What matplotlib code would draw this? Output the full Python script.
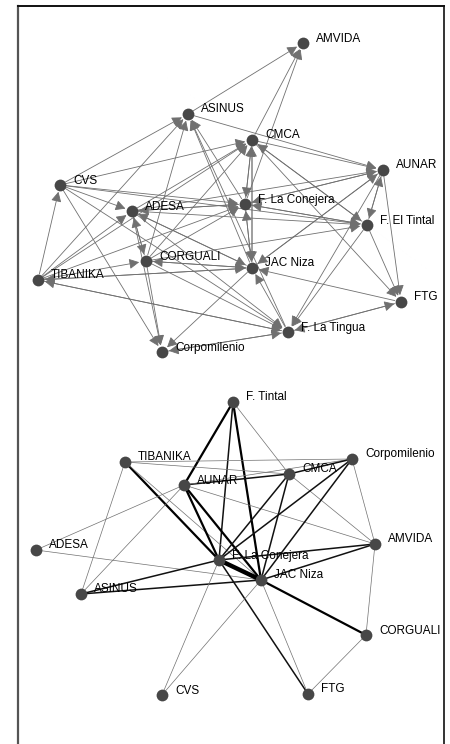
import matplotlib.pyplot as plt
from matplotlib.patches import FancyArrowPatch

plt.rcParams['font.family'] = ['Liberation Sans', 'DejaVu Sans']

# red dirigida (arriba): nombres y posiciones de los nodos
nodos_a = ['AMVIDA', 'ASINUS', 'CMCA', 'AUNAR', 'CVS', 'ADESA', 'F. La Conejera',
           'F. El Tintal', 'CORGUALI', 'JAC Niza', 'TIBANIKA', 'FTG', 'F. La Tingua',
           'Corpomilenio']
xa = [303, 188, 252, 383, 60, 132, 245, 367, 146, 252, 38, 401, 288, 162]
ya = [43, 114, 140, 170, 185, 211, 204, 225, 261, 268, 280, 302, 332, 352]

# arcos (origen, destino)
arcos_a = [
    ('ASINUS', 'AMVIDA'), ('CMCA', 'AMVIDA'), ('F. La Conejera', 'AMVIDA'),
    ('CVS', 'ASINUS'), ('CORGUALI', 'ASINUS'), ('TIBANIKA', 'ASINUS'),
    ('JAC Niza', 'ASINUS'), ('F. La Conejera', 'ASINUS'), ('F. La Tingua', 'ASINUS'),
    ('CMCA', 'AUNAR'), ('ASINUS', 'AUNAR'), ('F. La Conejera', 'AUNAR'),
    ('ADESA', 'AUNAR'), ('F. El Tintal', 'AUNAR'), ('JAC Niza', 'AUNAR'),
    ('CVS', 'CMCA'), ('F. La Conejera', 'CMCA'), ('JAC Niza', 'CMCA'),
    ('ADESA', 'CMCA'), ('CORGUALI', 'CMCA'), ('TIBANIKA', 'CMCA'), ('F. El Tintal', 'CMCA'),
    ('CVS', 'F. La Conejera'), ('ADESA', 'F. La Conejera'), ('TIBANIKA', 'F. La Conejera'),
    ('CORGUALI', 'F. La Conejera'), ('AUNAR', 'F. La Conejera'),
    ('F. El Tintal', 'F. La Conejera'), ('JAC Niza', 'F. La Conejera'), ('CMCA', 'F. La Conejera'),
    ('AUNAR', 'F. El Tintal'), ('CVS', 'F. El Tintal'), ('ADESA', 'F. El Tintal'),
    ('F. La Conejera', 'F. El Tintal'), ('CORGUALI', 'F. El Tintal'), ('CMCA', 'F. El Tintal'),
    ('CORGUALI', 'JAC Niza'), ('TIBANIKA', 'JAC Niza'), ('FTG', 'JAC Niza'),
    ('F. La Tingua', 'JAC Niza'), ('F. La Conejera', 'JAC Niza'), ('CMCA', 'JAC Niza'),
    ('ADESA', 'JAC Niza'), ('AUNAR', 'JAC Niza'),
    ('F. El Tintal', 'FTG'), ('F. La Tingua', 'FTG'), ('AUNAR', 'FTG'), ('CMCA', 'FTG'),
    ('CVS', 'F. La Tingua'), ('TIBANIKA', 'F. La Tingua'), ('CORGUALI', 'F. La Tingua'),
    ('F. El Tintal', 'F. La Tingua'), ('AUNAR', 'F. La Tingua'), ('FTG', 'F. La Tingua'),
    ('Corpomilenio', 'F. La Tingua'), ('ADESA', 'F. La Tingua'),
    ('CORGUALI', 'Corpomilenio'), ('CVS', 'Corpomilenio'), ('JAC Niza', 'Corpomilenio'),
    ('ADESA', 'Corpomilenio'), ('F. La Tingua', 'Corpomilenio'),
    ('F. La Tingua', 'TIBANIKA'), ('JAC Niza', 'TIBANIKA'), ('TIBANIKA', 'CVS'),
    ('CVS', 'ADESA'), ('TIBANIKA', 'ADESA'), ('CORGUALI', 'ADESA'),
    ('F. La Conejera', 'ADESA'), ('JAC Niza', 'ADESA'),
    ('ADESA', 'CORGUALI'), ('TIBANIKA', 'CORGUALI'), ('JAC Niza', 'CORGUALI'),
]

# red no dirigida (abajo)
nodos_b = ['F. Tintal', 'TIBANIKA', 'Corpomilenio', 'CMCA', 'AUNAR', 'ADESA', 'AMVIDA',
           'F. La Conejera', 'JAC Niza', 'ASINUS', 'CORGUALI', 'CVS', 'FTG']
xb = [233, 125, 352, 289, 184, 36, 375, 219, 261, 81, 366, 162, 308]
yb = [402, 462, 459, 474, 485, 550, 544, 560, 580, 594, 635, 695, 694]

# aristas con peso (1 delgada, 2 media, 3 gruesa, 4 muy gruesa)
aristas_b = [
    ('F. Tintal', 'AUNAR', 3), ('F. Tintal', 'F. La Conejera', 2), ('F. Tintal', 'JAC Niza', 3),
    ('F. Tintal', 'CMCA', 1),
    ('TIBANIKA', 'F. La Conejera', 3), ('TIBANIKA', 'JAC Niza', 1), ('TIBANIKA', 'ASINUS', 1),
    ('TIBANIKA', 'Corpomilenio', 1), ('TIBANIKA', 'CMCA', 1),
    ('AUNAR', 'CMCA', 2), ('AUNAR', 'Corpomilenio', 1), ('AUNAR', 'F. La Conejera', 3),
    ('AUNAR', 'JAC Niza', 3), ('AUNAR', 'ADESA', 1), ('AUNAR', 'ASINUS', 1), ('AUNAR', 'AMVIDA', 1),
    ('CMCA', 'F. La Conejera', 2), ('CMCA', 'JAC Niza', 2), ('CMCA', 'Corpomilenio', 2),
    ('CMCA', 'AMVIDA', 1),
    ('Corpomilenio', 'F. La Conejera', 2), ('Corpomilenio', 'JAC Niza', 2),
    ('Corpomilenio', 'AMVIDA', 1),
    ('AMVIDA', 'F. La Conejera', 2), ('AMVIDA', 'JAC Niza', 2), ('AMVIDA', 'CORGUALI', 1),
    ('ADESA', 'JAC Niza', 1), ('ASINUS', 'F. La Conejera', 2), ('ASINUS', 'JAC Niza', 2),
    ('F. La Conejera', 'JAC Niza', 4), ('F. La Conejera', 'CVS', 1), ('F. La Conejera', 'FTG', 2),
    ('JAC Niza', 'CVS', 1), ('JAC Niza', 'FTG', 1), ('JAC Niza', 'CORGUALI', 3),
    ('CORGUALI', 'FTG', 1),
]

fig = plt.figure(figsize=(4.5, 7.44), dpi=100)
ax = fig.add_axes([0, 0, 1, 1])
ax.set_xlim(0, 450)
ax.set_ylim(744, 0)
ax.axis('off')

# marco
ax.plot([17.5, 17.5], [6, 744], color='#555555', lw=1.6)
ax.plot([444, 444], [6, 744], color='#333333', lw=1.4)
ax.plot([17.5, 444], [6, 6], color='#111111', lw=1.4)

pos_a = {n: (x, y) for n, x, y in zip(nodos_a, xa, ya)}
for o, d in arcos_a:
    flecha = FancyArrowPatch(pos_a[o], pos_a[d], arrowstyle='-|>,head_length=5,head_width=2.6',
                             shrinkA=4.5, shrinkB=5, color='#707070', lw=0.6,
                             mutation_scale=1.2, zorder=1)
    ax.add_patch(flecha)

pos_b = {n: (x, y) for n, x, y in zip(nodos_b, xb, yb)}
grosor = {1: 0.5, 2: 1.1, 3: 1.6, 4: 3.2}
tono = {1: '#707070', 2: '#111111', 3: '#000000', 4: '#000000'}
for o, d, w in aristas_b:
    ax.plot([pos_b[o][0], pos_b[d][0]], [pos_b[o][1], pos_b[d][1]],
            color=tono[w], lw=grosor[w], zorder=1, solid_capstyle='butt')

for nombres, xs, ys in [(nodos_a, xa, ya), (nodos_b, xb, yb)]:
    ax.scatter(xs, ys, s=72, color='#474747', zorder=3, linewidths=0)
    for n, x, y in zip(nombres, xs, ys):
        ax.text(x + 13, y - 4.5, n, fontsize=8.5, va='center', ha='left', zorder=4)

fig.savefig('out.png', dpi=100)
